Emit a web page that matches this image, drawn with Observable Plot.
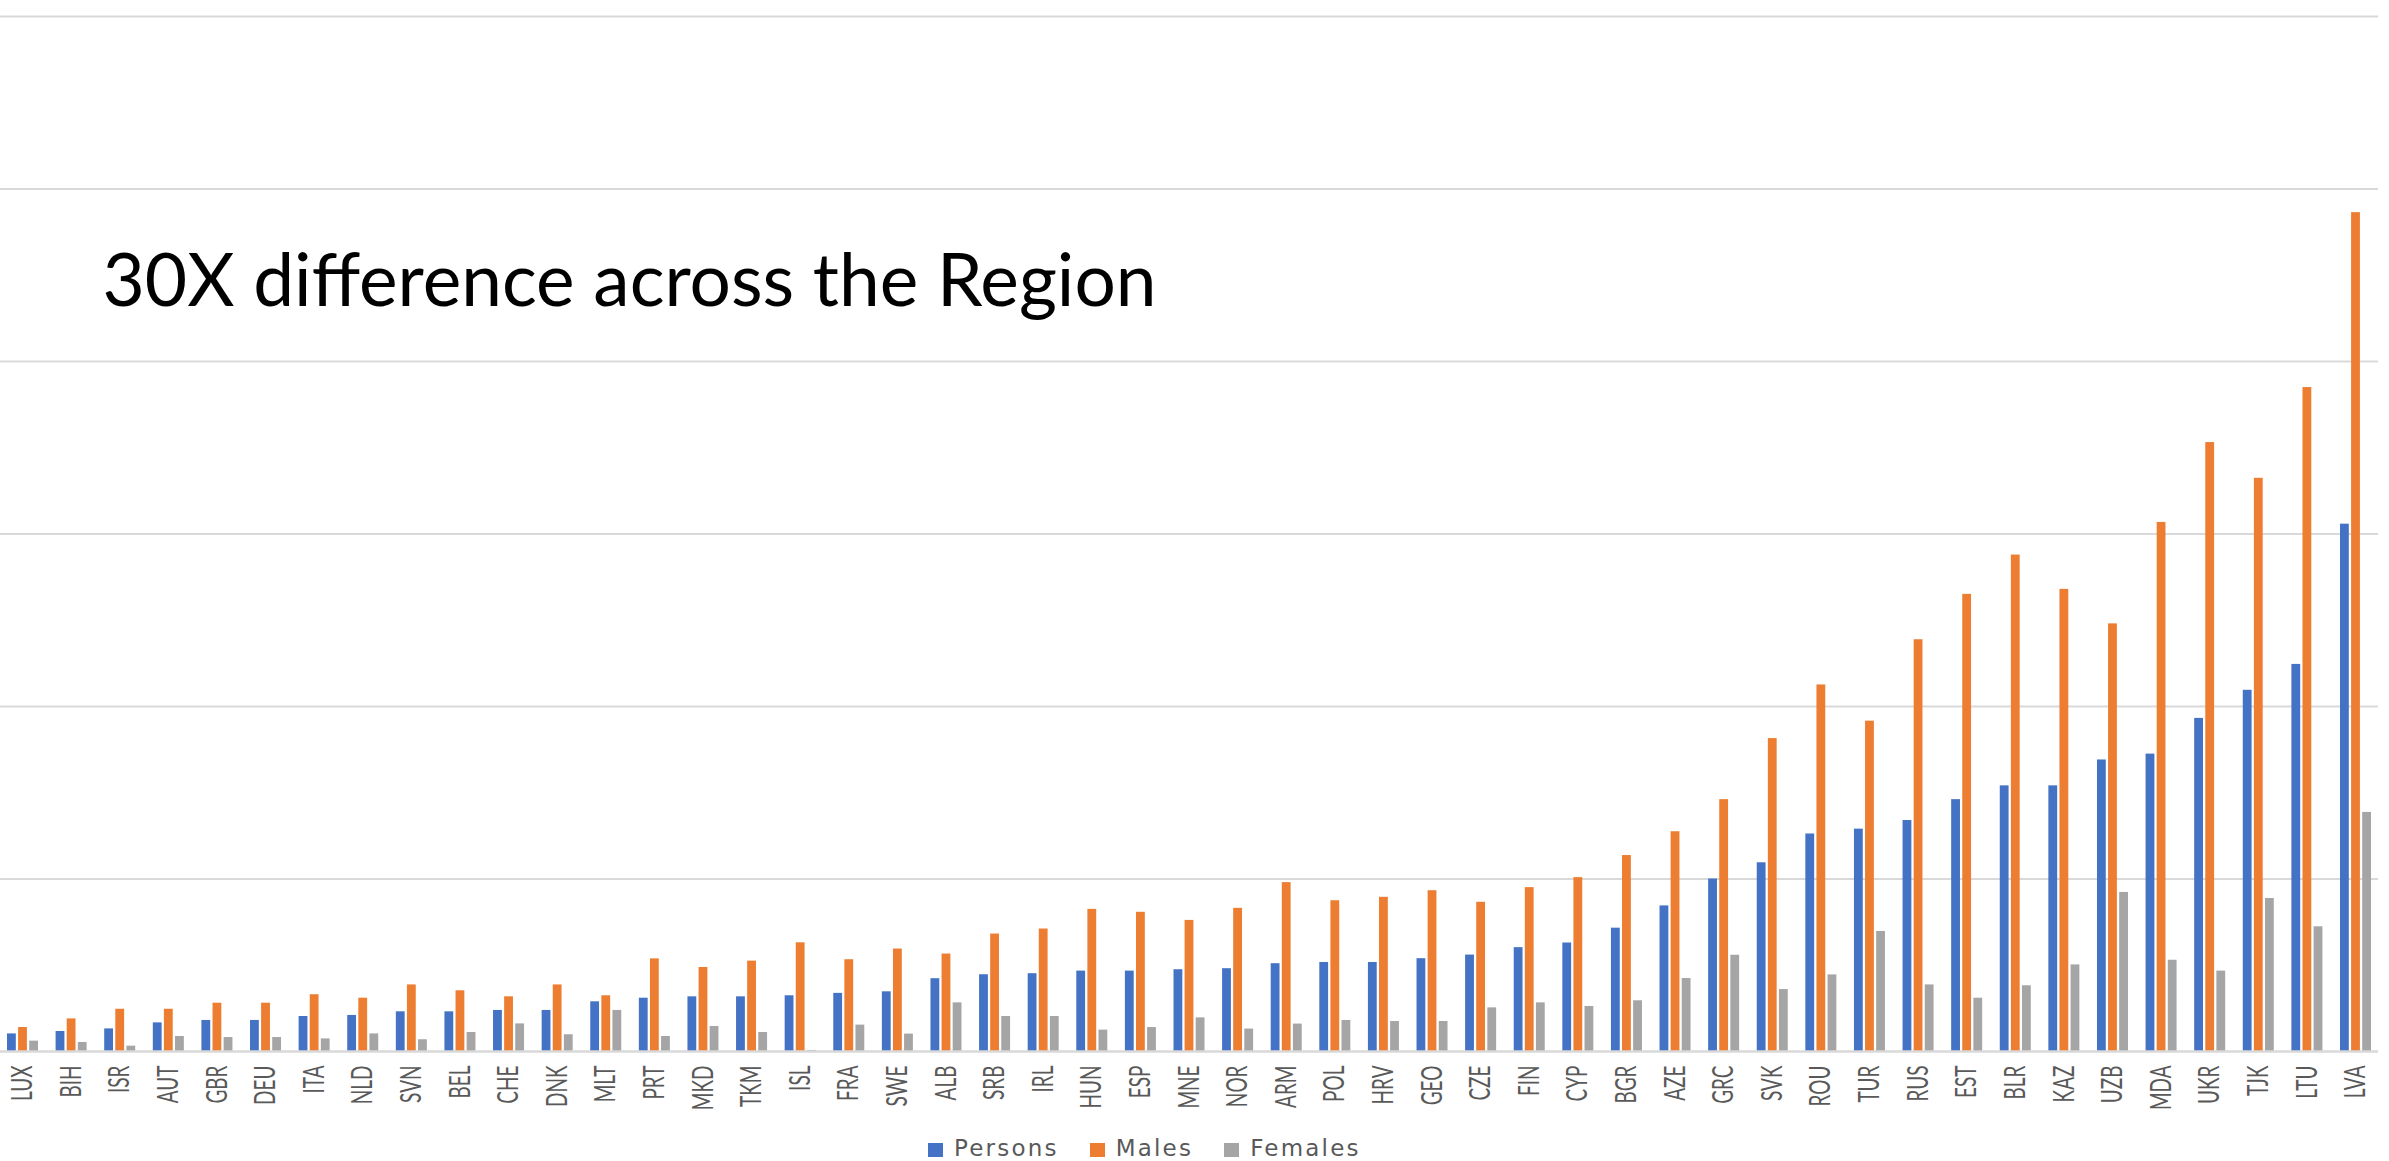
<!DOCTYPE html>
<html>
<head>
<meta charset="utf-8">
<script src="https://cdn.jsdelivr.net/npm/d3@7"></script>
<script src="https://cdn.jsdelivr.net/npm/@observablehq/plot@0.6"></script>
<style>
  html, body { margin: 0; padding: 0; background: #fff; overflow: hidden; }
  #chart { width: 2389px; }
  #legend { height: 33px; display: flex; align-items: flex-start; padding-left: 928px; box-sizing: border-box;
            padding-top: 8px; font-family: "DejaVu Sans", sans-serif; font-size: 23px; letter-spacing: 2.2px; color: #595959; line-height: 24px; }
  .item { display: flex; align-items: center; margin-right: 31px; }
  .sw { width: 15px; height: 14px; margin-right: 11px; margin-top: 4px; }
</style>
</head>
<body>
<div id="chart"></div>
<div id="legend"></div>
<script>
const countries = ["LUX","BIH","ISR","AUT","GBR","DEU","ITA","NLD","SVN","BEL","CHE","DNK","MLT","PRT","MKD","TKM","ISL","FRA","SWE","ALB","SRB","IRL","HUN","ESP","MNE","NOR","ARM","POL","HRV","GEO","CZE","FIN","CYP","BGR","AZE","GRC","SVK","ROU","TUR","RUS","EST","BLR","KAZ","UZB","MDA","UKR","TJK","LTU","LVA"];
const persons = [1.02,1.16,1.31,1.66,1.80,1.80,2.03,2.09,2.30,2.30,2.38,2.38,2.88,3.09,3.17,3.17,3.23,3.37,3.46,4.22,4.45,4.51,4.66,4.66,4.74,4.80,5.09,5.16,5.16,5.38,5.59,6.02,6.29,7.15,8.44,10.0,10.94,12.61,12.89,13.39,14.60,15.40,15.40,16.90,17.24,19.31,20.94,22.44,30.57];
const males = [1.39,1.89,2.45,2.45,2.80,2.80,3.29,3.09,3.86,3.52,3.17,3.86,3.23,5.37,4.87,5.24,6.30,5.32,5.94,5.65,6.81,7.10,8.24,8.07,7.60,8.30,9.79,8.74,8.94,9.32,8.65,9.50,10.08,11.36,12.74,14.60,18.14,21.25,19.15,23.87,26.50,28.78,26.79,24.79,30.67,35.30,33.23,38.49,48.63];
const females = [0.60,0.52,0.31,0.87,0.81,0.81,0.73,1.02,0.68,1.10,1.60,0.97,2.38,0.87,1.45,1.10,0.06,1.53,1.01,2.82,2.03,2.03,1.24,1.39,1.95,1.30,1.59,1.80,1.74,1.74,2.53,2.82,2.61,2.94,4.23,5.58,3.59,4.44,6.96,3.86,3.09,3.81,5.02,9.22,5.29,4.66,8.87,7.23,13.86];
const seriesNames = ["Persons", "Males", "Females"];
const seriesColors = ["#4472C4", "#ED7D31", "#A5A5A5"];
const gridValues = [10, 20, 30, 40, 50, 60];
const title = "30X difference across the Region";

const table = countries.map((c, i) => ({country: c, Persons: persons[i], Males: males[i], Females: females[i]}));

const bandW = 31, barW = 8.8;
const offsets = [0, (bandW - barW) / 2, bandW - barW];

const barMarks = seriesNames.map((s, k) => Plot.barY(table, {
  x: "country", y: s, fill: seriesColors[k],
  insetLeft: offsets[k], insetRight: bandW - barW - offsets[k]
}));

const chart = Plot.plot({
  width: 2389,
  height: 1128,
  marginLeft: 0,
  marginRight: 11,
  marginTop: 16,
  marginBottom: 77,
  style: {fontFamily: "Lato, sans-serif", color: "#595959", background: "#fff"},
  x: {type: "band", domain: countries, paddingInner: 0.362, paddingOuter: 0.144, round: false, label: null},
  y: {domain: [0, 60], axis: null},
  marks: [
    Plot.ruleY(gridValues, {stroke: "#d9d9d9", strokeWidth: 2}),
    ...barMarks,
    Plot.ruleY([0], {stroke: "#d9d9d9", strokeWidth: 2.5}),
    Plot.axisX({tickSize: 0, tickPadding: 14, tickRotate: -90, fontSize: 19, fill: "#595959", label: null, ariaLabel: "x-axis tick label"}),
    Plot.text([title], {text: d => d, frameAnchor: "top-left", dx: 102, dy: 238, textAnchor: "start",
      fontSize: 73, fill: "#000", fontFamily: "Lato, sans-serif"})
  ]
});

// widen the rotated tick glyphs (the reference labels are horizontally stretched)
chart.querySelectorAll("text").forEach(t => {
  const tr = t.getAttribute("transform");
  if (tr && tr.includes("rotate(-90")) t.setAttribute("transform", tr + " scale(1,1.5)");
});
chart.querySelectorAll("g").forEach(g => {
  const tr = g.getAttribute("transform");
  if (tr && tr.includes("rotate(-90") && g.querySelector("text") && !g.querySelector("g")) {
    g.querySelectorAll("text").forEach(t => {
      if (!t.getAttribute("transform")) t.setAttribute("transform", "scale(1,1.5)");
    });
  }
});
document.getElementById("chart").appendChild(chart);

const legend = document.getElementById("legend");
seriesNames.forEach((s, k) => {
  const it = document.createElement("div");
  it.className = "item";
  const sw = document.createElement("div");
  sw.className = "sw";
  sw.style.background = seriesColors[k];
  const t = document.createElement("span");
  t.textContent = s;
  it.appendChild(sw); it.appendChild(t);
  legend.appendChild(it);
});
</script>
</body>
</html>
